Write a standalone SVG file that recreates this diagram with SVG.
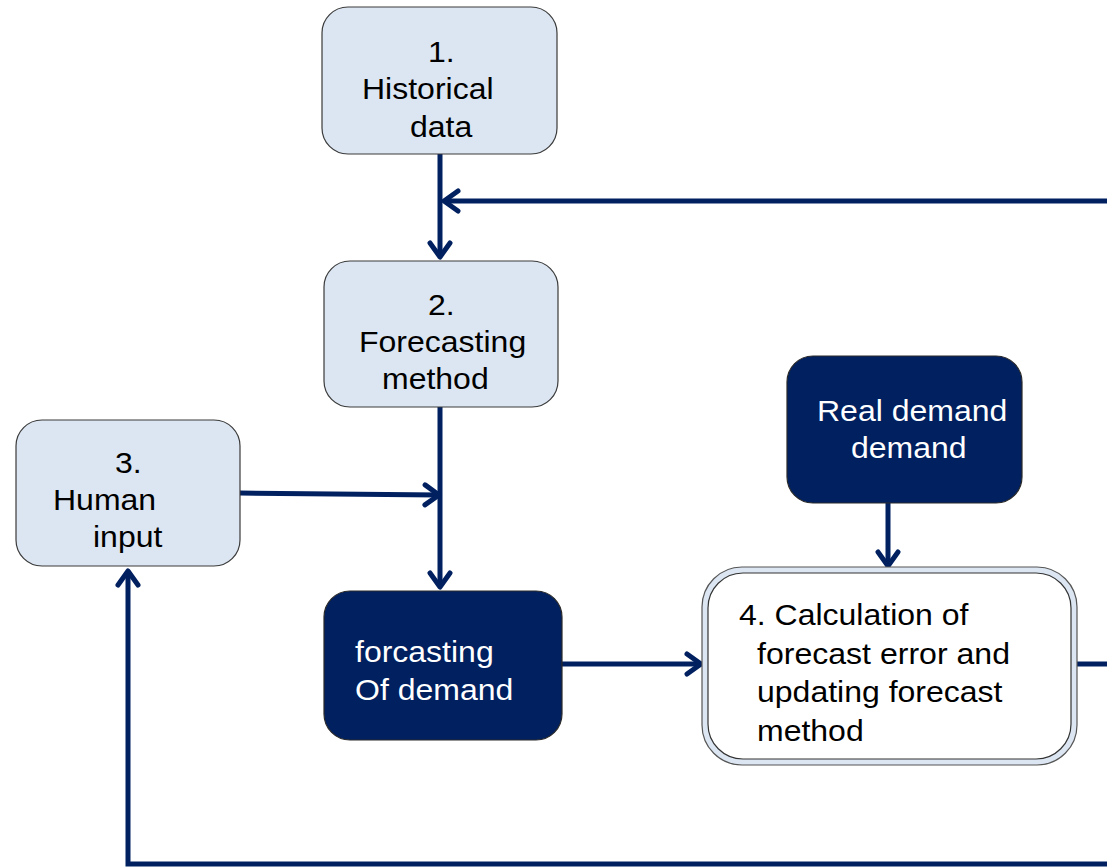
<svg xmlns="http://www.w3.org/2000/svg" width="1107" height="868" viewBox="0 0 1107 868">
  <defs>
    <style>
      .light { fill: #dce6f2; stroke: #3a3a3a; stroke-width: 1.2; }
      .dark { fill: #002060; stroke: #2a2a2a; stroke-width: 1.2; }
      .lbl { font-family: "Liberation Sans", Arial, sans-serif; font-size: 30px; fill: #000000; }
      .lbl-w { font-family: "Liberation Sans", Arial, sans-serif; font-size: 30px; fill: #ffffff; }
      .wire { fill: none; stroke: #002060; stroke-width: 5; stroke-linejoin: miter; }
    </style>
    <marker id="chev" viewBox="-18 -13 22 26" refX="0" refY="0" markerWidth="22" markerHeight="26" markerUnits="userSpaceOnUse" orient="auto">
      <path d="M-14,-10 L0,0 L-14,10" fill="none" stroke="#002060" stroke-width="5" stroke-linecap="round" stroke-linejoin="round"/>
    </marker>
  </defs>

  <rect width="1107" height="868" fill="#ffffff"/>

  <!-- connectors -->
  <g id="connectors">
    <path class="wire" d="M440,154 L440,257" marker-end="url(#chev)"/>
    <path class="wire" d="M1107,201 L444,201" marker-end="url(#chev)"/>
    <path class="wire" d="M440,407 L440,587" marker-end="url(#chev)"/>
    <path class="wire" d="M240,493 L439,495" marker-end="url(#chev)"/>
    <path class="wire" d="M888,503 L888,566" marker-end="url(#chev)"/>
    <path class="wire" d="M562,664 L701,664" marker-end="url(#chev)"/>
    <path class="wire" d="M1077,664 L1107,664"/>
    <path class="wire" d="M1107,864 L128,864 L128,571" marker-end="url(#chev)"/>
  </g>

  <!-- 1. Historical data -->
  <g id="node-historical">
    <rect class="light" x="322" y="7" width="235" height="147" rx="26"/>
    <text class="lbl" x="428" y="62" textLength="26.7" lengthAdjust="spacingAndGlyphs">1.</text>
    <text class="lbl" x="362" y="99" textLength="131.6" lengthAdjust="spacingAndGlyphs">Historical</text>
    <text class="lbl" x="410" y="137" textLength="62.3" lengthAdjust="spacingAndGlyphs">data</text>
  </g>

  <!-- 2. Forecasting method -->
  <g id="node-method">
    <rect class="light" x="324" y="261" width="234" height="146" rx="26"/>
    <text class="lbl" x="428" y="315" textLength="26.7" lengthAdjust="spacingAndGlyphs">2.</text>
    <text class="lbl" x="359" y="352" textLength="167.2" lengthAdjust="spacingAndGlyphs">Forecasting</text>
    <text class="lbl" x="382" y="389" textLength="106.7" lengthAdjust="spacingAndGlyphs">method</text>
  </g>

  <!-- 3. Human input -->
  <g id="node-human">
    <rect class="light" x="16" y="420" width="224" height="146" rx="26"/>
    <text class="lbl" x="115" y="473" textLength="26.7" lengthAdjust="spacingAndGlyphs">3.</text>
    <text class="lbl" x="53" y="510" textLength="103.1" lengthAdjust="spacingAndGlyphs">Human</text>
    <text class="lbl" x="93" y="547" textLength="69.4" lengthAdjust="spacingAndGlyphs">input</text>
  </g>

  <!-- forecasting of demand -->
  <g id="node-forecast">
    <rect class="dark" x="324" y="591" width="238" height="149" rx="26"/>
    <text class="lbl-w" x="355" y="662" textLength="138.7" lengthAdjust="spacingAndGlyphs">forcasting</text>
    <text class="lbl-w" x="355" y="700" textLength="158.3" lengthAdjust="spacingAndGlyphs">Of demand</text>
  </g>

  <!-- real demand -->
  <g id="node-real">
    <rect class="dark" x="787" y="356" width="235" height="147" rx="26"/>
    <text class="lbl-w" x="817" y="421" textLength="190.3" lengthAdjust="spacingAndGlyphs">Real demand</text>
    <text class="lbl-w" x="851" y="458" textLength="115.6" lengthAdjust="spacingAndGlyphs">demand</text>
  </g>

  <!-- 4. error calculation and method update -->
  <g id="node-error">
    <rect x="702" y="567" width="375" height="198" rx="40" fill="#dce6f2" stroke="#555555" stroke-width="1.2"/>
    <rect x="708" y="573" width="363" height="186" rx="35" fill="#ffffff" stroke="#333333" stroke-width="1.2"/>
    <text class="lbl" x="739" y="625" textLength="229.4" lengthAdjust="spacingAndGlyphs">4. Calculation of</text>
    <text class="lbl" x="757" y="664" textLength="253" lengthAdjust="spacingAndGlyphs">forecast error and</text>
    <text class="lbl" x="757" y="702" textLength="245.5" lengthAdjust="spacingAndGlyphs">updating forecast</text>
    <text class="lbl" x="757" y="741" textLength="106.7" lengthAdjust="spacingAndGlyphs">method</text>
  </g>
</svg>
